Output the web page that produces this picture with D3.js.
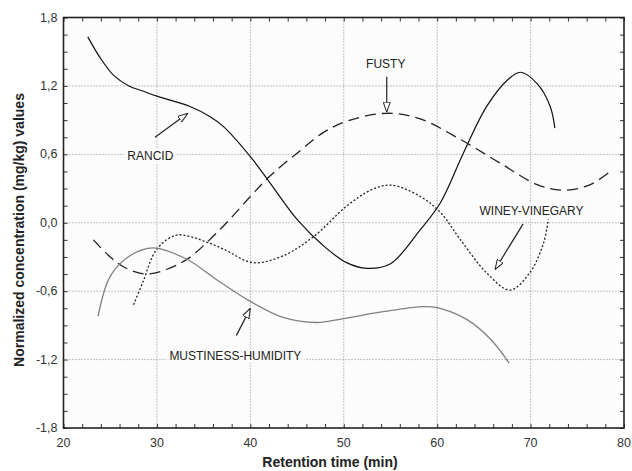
<!DOCTYPE html>
<html>
<head>
<meta charset="utf-8">
<script src="https://cdn.jsdelivr.net/npm/d3@7"></script>
<style>
  body { margin: 0; background: #fff; }
  svg { display: block; font-family: Arial, "Liberation Sans", sans-serif; }
</style>
</head>
<body>
<svg id="chart" width="632" height="471"></svg>
<script>
// values (time in min, normalized concentration)
let rancidTime = [22.6, 23.9, 25.4, 27, 28.5, 30, 33.55, 35.7, 37.1, 40, 42.1, 45, 47.8, 50.3, 52.5, 55, 58.2, 60.35, 62.8, 65.3, 67.5, 68.9, 70.7, 72.1, 72.6];
let rancidValue = [1.63, 1.45, 1.29, 1.2, 1.155, 1.11, 1.02, 0.93, 0.845, 0.58, 0.35, 0.03, -0.2, -0.35, -0.4, -0.36, -0.06, 0.175, 0.61, 1.02, 1.25, 1.32, 1.22, 1.02, 0.83];

let fustyTime = [23.2, 25, 26.5, 28.7, 31, 33.4, 37.1, 40, 42.1, 45, 47.8, 50.3, 54.6, 58.2, 62.5, 66.7, 70.7, 73.5, 76.4, 78.7];
let fustyValue = [-0.15, -0.3, -0.39, -0.45, -0.41, -0.31, -0.03, 0.23, 0.41, 0.61, 0.79, 0.89, 0.96, 0.91, 0.73, 0.525, 0.335, 0.285, 0.335, 0.46];

let wineyTime = [27.5, 28.5, 30, 32, 33.5, 35, 37.1, 40.3, 43.5, 46.8, 50.3, 53, 55.1, 58.2, 60.35, 62.5, 65.3, 67.8, 69.9, 71.4, 71.9];
let wineyValue = [-0.72, -0.52, -0.23, -0.11, -0.12, -0.16, -0.23, -0.35, -0.29, -0.12, 0.145, 0.29, 0.33, 0.23, 0.09, -0.15, -0.44, -0.59, -0.44, -0.175, 0.03];

let mustyTime = [23.7, 25, 27.1, 29.6, 33.2, 36.4, 40, 43.5, 47.1, 50, 54.2, 58.5, 60, 63.2, 65.7, 67.7];
let mustyValue = [-0.82, -0.47, -0.29, -0.22, -0.32, -0.5, -0.69, -0.83, -0.875, -0.84, -0.78, -0.735, -0.745, -0.85, -1.02, -1.23];

let xTicks = [20, 30, 40, 50, 60, 70, 80];
let yTicks = [-1.8, -1.2, -0.6, 0.0, 0.6, 1.2, 1.8];

let svg = d3.select("#chart");
let plotLeft = 63.5, plotRight = 624, plotTop = 17.5, plotBottom = 428;

let x = d3.scaleLinear().domain([20, 80]).range([plotLeft, plotRight]);
let y = d3.scaleLinear().domain([-1.8, 1.8]).range([plotBottom, plotTop]);

// plot background
svg.append("rect")
  .attr("x", plotLeft).attr("y", plotTop)
  .attr("width", plotRight - plotLeft).attr("height", plotBottom - plotTop)
  .attr("fill", "#fcfcfc");

// dotted grid
svg.append("g")
  .selectAll("line")
  .data(xTicks.slice(1, -1))
  .enter()
  .append("line")
  .attr("x1", (d) => x(d)).attr("x2", (d) => x(d))
  .attr("y1", plotTop).attr("y2", plotBottom)
  .attr("stroke", "#8a8a8a").attr("stroke-width", 1)
  .attr("stroke-dasharray", "1,2");

svg.append("g")
  .selectAll("line")
  .data(yTicks.slice(1, -1))
  .enter()
  .append("line")
  .attr("y1", (d) => y(d)).attr("y2", (d) => y(d))
  .attr("x1", plotLeft).attr("x2", plotRight)
  .attr("stroke", "#8a8a8a").attr("stroke-width", 1)
  .attr("stroke-dasharray", "1,2");

// inward minor ticks on all four sides
let xMinor = d3.range(20, 80.01, 2);
let yMinor = d3.range(-1.8, 1.81, 0.15);

svg.append("g")
  .attr("transform", "translate(0," + plotBottom + ")")
  .call(d3.axisTop(x).tickValues(xMinor).tickSize(4).tickFormat(""))
  .call((g) => g.select(".domain").remove());
svg.append("g")
  .attr("transform", "translate(0," + plotTop + ")")
  .call(d3.axisBottom(x).tickValues(xMinor).tickSize(4).tickFormat(""))
  .call((g) => g.select(".domain").remove());
svg.append("g")
  .attr("transform", "translate(" + plotLeft + ",0)")
  .call(d3.axisRight(y).tickValues(yMinor).tickSize(4).tickFormat(""))
  .call((g) => g.select(".domain").remove());
svg.append("g")
  .attr("transform", "translate(" + plotRight + ",0)")
  .call(d3.axisLeft(y).tickValues(yMinor).tickSize(4).tickFormat(""))
  .call((g) => g.select(".domain").remove());

svg.selectAll(".tick line").attr("stroke", "#333");

// tick labels
let comma = (d) => d3.format(".1f")(d).replace(".", ",").replace("−", "-");

svg.append("g")
  .selectAll("text")
  .data(xTicks)
  .enter()
  .append("text")
  .attr("x", (d) => x(d))
  .attr("y", plotBottom + 19)
  .attr("text-anchor", "middle")
  .attr("font-size", 12.5)
  .attr("fill", "#333")
  .text((d) => d);

svg.append("g")
  .selectAll("text")
  .data(yTicks)
  .enter()
  .append("text")
  .attr("x", plotLeft - 6)
  .attr("y", (d) => y(d) + 4)
  .attr("text-anchor", "end")
  .attr("font-size", 12.5)
  .attr("fill", "#333")
  .text((d) => comma(d));

// frame
svg.append("rect")
  .attr("x", plotLeft).attr("y", plotTop)
  .attr("width", plotRight - plotLeft).attr("height", plotBottom - plotTop)
  .attr("fill", "none")
  .attr("stroke", "#222").attr("stroke-width", 1.6);

// axis titles
svg.append("text")
  .attr("x", 330).attr("y", 467)
  .attr("text-anchor", "middle")
  .attr("font-size", 14).attr("font-weight", "bold")
  .attr("fill", "#222")
  .text("Retention time (min)");

svg.append("text")
  .attr("transform", "translate(24," + 230 + ") rotate(-90)")
  .attr("text-anchor", "middle")
  .attr("font-size", 14).attr("font-weight", "bold")
  .attr("fill", "#222")
  .text("Normalized concentration (mg/kg) values");

// curves
let line = d3.line()
  .x((d) => x(d[0]))
  .y((d) => y(d[1]))
  .curve(d3.curveCatmullRom.alpha(0.5));

let series = [
  { name: "RANCID", t: rancidTime, v: rancidValue, color: "#111", width: 1.2, dash: null },
  { name: "FUSTY", t: fustyTime, v: fustyValue, color: "#222", width: 1.3, dash: "11,6" },
  { name: "WINEY-VINEGARY", t: wineyTime, v: wineyValue, color: "#222", width: 1.3, dash: "2,2" },
  { name: "MUSTINESS-HUMIDITY", t: mustyTime, v: mustyValue, color: "#808080", width: 1.3, dash: null }
];

svg.append("g")
  .selectAll("path")
  .data(series)
  .enter()
  .append("path")
  .attr("d", (s) => line(d3.zip(s.t, s.v)))
  .attr("fill", "none")
  .attr("stroke", (s) => s.color)
  .attr("stroke-width", (s) => s.width)
  .attr("stroke-dasharray", (s) => s.dash);

// annotations: label spot and arrow, in chart units
let notes = [
  { text: "RANCID", lx: 29.3, ly: 0.55, from: [29.8, 0.75], to: [33.3, 0.96] },
  { text: "FUSTY", lx: 54.5, ly: 1.36, from: [54.6, 1.28], to: [54.6, 0.97] },
  { text: "WINEY-VINEGARY", lx: 70.1, ly: 0.07, from: [69.2, -0.01], to: [66.2, -0.41] },
  { text: "MUSTINESS-HUMIDITY", lx: 38.4, ly: -1.2, from: [38.5, -0.99], to: [40, -0.75] }
];

svg.append("defs")
  .append("marker")
  .attr("id", "head")
  .attr("viewBox", "0 0 10 8")
  .attr("refX", 10).attr("refY", 4)
  .attr("markerWidth", 10).attr("markerHeight", 8)
  .attr("markerUnits", "userSpaceOnUse")
  .attr("orient", "auto")
  .append("path")
  .attr("d", "M0,0.5 L10,4 L0,7.5 Z")
  .attr("fill", "#fff")
  .attr("stroke", "#222")
  .attr("stroke-width", 1);

let noteG = svg.append("g")
  .selectAll("g")
  .data(notes)
  .enter()
  .append("g");

noteG.append("line")
  .attr("x1", (d) => x(d.from[0])).attr("y1", (d) => y(d.from[1]))
  .attr("x2", (d) => x(d.to[0])).attr("y2", (d) => y(d.to[1]))
  .attr("stroke", "#222").attr("stroke-width", 1.2)
  .attr("marker-end", "url(#head)");

noteG.each(function (d) {
  let g = d3.select(this);
  let t = g.append("text")
    .attr("x", x(d.lx)).attr("y", y(d.ly))
    .attr("text-anchor", "middle")
    .attr("font-size", 12)
    .attr("fill", "#222")
    .text(d.text);
  let b = t.node().getBBox();
  g.insert("rect", "text")
    .attr("x", b.x - 3).attr("y", b.y)
    .attr("width", b.width + 6).attr("height", b.height)
    .attr("fill", "#fcfcfc");
});
</script>
</body>
</html>
